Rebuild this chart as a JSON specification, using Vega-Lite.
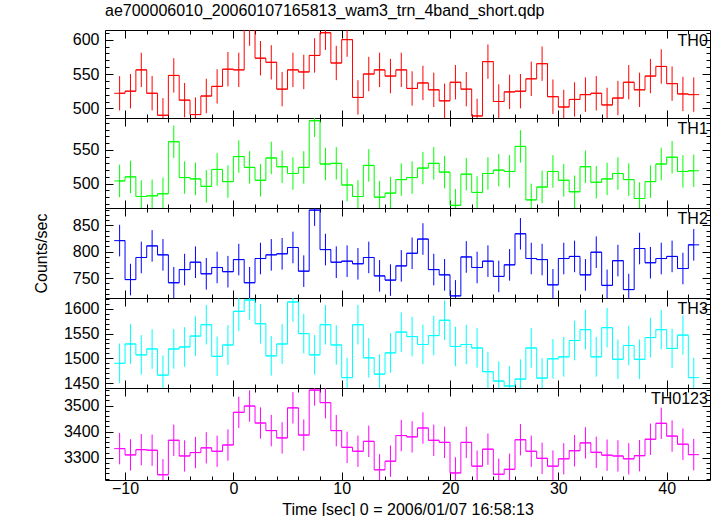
{
  "$schema": "https://vega.github.io/schema/vega-lite/v6.json",
  "padding": {"left": 33, "top": 2, "right": 5, "bottom": 0},
  "spacing": 0,
  "bounds": "flush",
  "config": {
    "view": {"stroke": null},
    "font": "Liberation Sans",
    "axis": {"grid": false, "domainColor": "black", "domainWidth": 1, "tickColor": "black", "tickWidth": 1, "labelColor": "black", "labelFont": "Liberation Sans", "labelFontSize": 16, "labelOverlap": false, "labelFlush": false, "titleFont": "Liberation Sans", "titleFontSize": 16, "titleFontWeight": "normal", "titleColor": "black", "format": "d"}
  },
  "data": {"values": [
    {"p":"TH0","t":-10.5,"v":522,"e":25},{"p":"TH0","t":-9.5,"v":525,"e":25},{"p":"TH0","t":-8.5,"v":556,"e":25},{"p":"TH0","t":-7.5,"v":522,"e":25},{"p":"TH0","t":-6.5,"v":490,"e":25},{"p":"TH0","t":-5.5,"v":548,"e":25},{"p":"TH0","t":-4.5,"v":512,"e":25},{"p":"TH0","t":-3.5,"v":491,"e":25},{"p":"TH0","t":-2.5,"v":518,"e":25},{"p":"TH0","t":-1.5,"v":532,"e":25},{"p":"TH0","t":-0.5,"v":557,"e":25},{"p":"TH0","t":0.5,"v":556,"e":25},{"p":"TH0","t":1.5,"v":616,"e":25},{"p":"TH0","t":2.5,"v":573,"e":25},{"p":"TH0","t":3.5,"v":567,"e":25},{"p":"TH0","t":4.5,"v":528,"e":25},{"p":"TH0","t":5.5,"v":556,"e":25},{"p":"TH0","t":6.5,"v":553,"e":25},{"p":"TH0","t":7.5,"v":577,"e":25},{"p":"TH0","t":8.5,"v":610,"e":25},{"p":"TH0","t":9.5,"v":566,"e":25},{"p":"TH0","t":10.5,"v":600,"e":25},{"p":"TH0","t":11.5,"v":516,"e":25},{"p":"TH0","t":12.5,"v":550,"e":25},{"p":"TH0","t":13.5,"v":556,"e":25},{"p":"TH0","t":14.5,"v":547,"e":25},{"p":"TH0","t":15.5,"v":556,"e":25},{"p":"TH0","t":16.5,"v":529,"e":25},{"p":"TH0","t":17.5,"v":537,"e":25},{"p":"TH0","t":18.5,"v":527,"e":25},{"p":"TH0","t":19.5,"v":511,"e":25},{"p":"TH0","t":20.5,"v":538,"e":25},{"p":"TH0","t":21.5,"v":528,"e":25},{"p":"TH0","t":22.5,"v":489,"e":25},{"p":"TH0","t":23.5,"v":568,"e":25},{"p":"TH0","t":24.5,"v":510,"e":25},{"p":"TH0","t":25.5,"v":524,"e":25},{"p":"TH0","t":26.5,"v":525,"e":25},{"p":"TH0","t":27.5,"v":543,"e":25},{"p":"TH0","t":28.5,"v":565,"e":25},{"p":"TH0","t":29.5,"v":517,"e":25},{"p":"TH0","t":30.5,"v":502,"e":25},{"p":"TH0","t":31.5,"v":513,"e":25},{"p":"TH0","t":32.5,"v":520,"e":25},{"p":"TH0","t":33.5,"v":522,"e":25},{"p":"TH0","t":34.5,"v":505,"e":25},{"p":"TH0","t":35.5,"v":515,"e":25},{"p":"TH0","t":36.5,"v":538,"e":25},{"p":"TH0","t":37.5,"v":527,"e":25},{"p":"TH0","t":38.5,"v":547,"e":25},{"p":"TH0","t":39.5,"v":561,"e":25},{"p":"TH0","t":40.5,"v":536,"e":25},{"p":"TH0","t":41.5,"v":521,"e":25},{"p":"TH0","t":42.5,"v":520,"e":25},
    {"p":"TH1","t":-10.5,"v":504,"e":24},{"p":"TH1","t":-9.5,"v":510,"e":24},{"p":"TH1","t":-8.5,"v":481,"e":24},{"p":"TH1","t":-7.5,"v":482,"e":24},{"p":"TH1","t":-6.5,"v":485,"e":24},{"p":"TH1","t":-5.5,"v":562,"e":24},{"p":"TH1","t":-4.5,"v":509,"e":24},{"p":"TH1","t":-3.5,"v":507,"e":24},{"p":"TH1","t":-2.5,"v":496,"e":24},{"p":"TH1","t":-1.5,"v":521,"e":24},{"p":"TH1","t":-0.5,"v":503,"e":24},{"p":"TH1","t":0.5,"v":540,"e":24},{"p":"TH1","t":1.5,"v":524,"e":24},{"p":"TH1","t":2.5,"v":505,"e":24},{"p":"TH1","t":3.5,"v":538,"e":24},{"p":"TH1","t":4.5,"v":525,"e":24},{"p":"TH1","t":5.5,"v":515,"e":24},{"p":"TH1","t":6.5,"v":524,"e":24},{"p":"TH1","t":7.5,"v":593,"e":24},{"p":"TH1","t":8.5,"v":529,"e":24},{"p":"TH1","t":9.5,"v":530,"e":24},{"p":"TH1","t":10.5,"v":498,"e":24},{"p":"TH1","t":11.5,"v":481,"e":24},{"p":"TH1","t":12.5,"v":527,"e":24},{"p":"TH1","t":13.5,"v":480,"e":24},{"p":"TH1","t":14.5,"v":486,"e":24},{"p":"TH1","t":15.5,"v":506,"e":24},{"p":"TH1","t":16.5,"v":509,"e":24},{"p":"TH1","t":17.5,"v":523,"e":24},{"p":"TH1","t":18.5,"v":530,"e":24},{"p":"TH1","t":19.5,"v":517,"e":24},{"p":"TH1","t":20.5,"v":468,"e":24},{"p":"TH1","t":21.5,"v":514,"e":24},{"p":"TH1","t":22.5,"v":487,"e":24},{"p":"TH1","t":23.5,"v":515,"e":24},{"p":"TH1","t":24.5,"v":520,"e":24},{"p":"TH1","t":25.5,"v":518,"e":24},{"p":"TH1","t":26.5,"v":555,"e":24},{"p":"TH1","t":27.5,"v":476,"e":24},{"p":"TH1","t":28.5,"v":495,"e":24},{"p":"TH1","t":29.5,"v":518,"e":24},{"p":"TH1","t":30.5,"v":505,"e":24},{"p":"TH1","t":31.5,"v":488,"e":24},{"p":"TH1","t":32.5,"v":525,"e":24},{"p":"TH1","t":33.5,"v":502,"e":24},{"p":"TH1","t":34.5,"v":507,"e":24},{"p":"TH1","t":35.5,"v":515,"e":24},{"p":"TH1","t":36.5,"v":506,"e":24},{"p":"TH1","t":37.5,"v":478,"e":24},{"p":"TH1","t":38.5,"v":503,"e":24},{"p":"TH1","t":39.5,"v":529,"e":24},{"p":"TH1","t":40.5,"v":539,"e":24},{"p":"TH1","t":41.5,"v":518,"e":24},{"p":"TH1","t":42.5,"v":519,"e":24},
    {"p":"TH2","t":-10.5,"v":821,"e":30},{"p":"TH2","t":-9.5,"v":747,"e":30},{"p":"TH2","t":-8.5,"v":789,"e":30},{"p":"TH2","t":-7.5,"v":811,"e":30},{"p":"TH2","t":-6.5,"v":794,"e":30},{"p":"TH2","t":-5.5,"v":741,"e":30},{"p":"TH2","t":-4.5,"v":766,"e":30},{"p":"TH2","t":-3.5,"v":780,"e":30},{"p":"TH2","t":-2.5,"v":758,"e":30},{"p":"TH2","t":-1.5,"v":770,"e":30},{"p":"TH2","t":-0.5,"v":762,"e":30},{"p":"TH2","t":0.5,"v":785,"e":30},{"p":"TH2","t":1.5,"v":741,"e":30},{"p":"TH2","t":2.5,"v":787,"e":30},{"p":"TH2","t":3.5,"v":794,"e":30},{"p":"TH2","t":4.5,"v":796,"e":30},{"p":"TH2","t":5.5,"v":808,"e":30},{"p":"TH2","t":6.5,"v":763,"e":30},{"p":"TH2","t":7.5,"v":879,"e":30},{"p":"TH2","t":8.5,"v":804,"e":30},{"p":"TH2","t":9.5,"v":780,"e":30},{"p":"TH2","t":10.5,"v":782,"e":30},{"p":"TH2","t":11.5,"v":777,"e":30},{"p":"TH2","t":12.5,"v":789,"e":30},{"p":"TH2","t":13.5,"v":754,"e":30},{"p":"TH2","t":14.5,"v":746,"e":30},{"p":"TH2","t":15.5,"v":773,"e":30},{"p":"TH2","t":16.5,"v":797,"e":30},{"p":"TH2","t":17.5,"v":824,"e":30},{"p":"TH2","t":18.5,"v":766,"e":30},{"p":"TH2","t":19.5,"v":756,"e":30},{"p":"TH2","t":20.5,"v":716,"e":30},{"p":"TH2","t":21.5,"v":790,"e":30},{"p":"TH2","t":22.5,"v":770,"e":30},{"p":"TH2","t":23.5,"v":782,"e":30},{"p":"TH2","t":24.5,"v":753,"e":30},{"p":"TH2","t":25.5,"v":775,"e":30},{"p":"TH2","t":26.5,"v":834,"e":30},{"p":"TH2","t":27.5,"v":787,"e":30},{"p":"TH2","t":28.5,"v":785,"e":30},{"p":"TH2","t":29.5,"v":737,"e":30},{"p":"TH2","t":30.5,"v":787,"e":30},{"p":"TH2","t":31.5,"v":791,"e":30},{"p":"TH2","t":32.5,"v":756,"e":30},{"p":"TH2","t":33.5,"v":799,"e":30},{"p":"TH2","t":34.5,"v":736,"e":30},{"p":"TH2","t":35.5,"v":783,"e":30},{"p":"TH2","t":36.5,"v":728,"e":30},{"p":"TH2","t":37.5,"v":806,"e":30},{"p":"TH2","t":38.5,"v":779,"e":30},{"p":"TH2","t":39.5,"v":787,"e":30},{"p":"TH2","t":40.5,"v":791,"e":30},{"p":"TH2","t":41.5,"v":768,"e":30},{"p":"TH2","t":42.5,"v":813,"e":30},
    {"p":"TH3","t":-10.5,"v":1490,"e":40},{"p":"TH3","t":-9.5,"v":1529,"e":40},{"p":"TH3","t":-8.5,"v":1507,"e":40},{"p":"TH3","t":-7.5,"v":1519,"e":40},{"p":"TH3","t":-6.5,"v":1466,"e":40},{"p":"TH3","t":-5.5,"v":1519,"e":40},{"p":"TH3","t":-4.5,"v":1523,"e":40},{"p":"TH3","t":-3.5,"v":1545,"e":40},{"p":"TH3","t":-2.5,"v":1568,"e":40},{"p":"TH3","t":-1.5,"v":1504,"e":40},{"p":"TH3","t":-0.5,"v":1527,"e":40},{"p":"TH3","t":0.5,"v":1595,"e":40},{"p":"TH3","t":1.5,"v":1618,"e":40},{"p":"TH3","t":2.5,"v":1570,"e":40},{"p":"TH3","t":3.5,"v":1505,"e":40},{"p":"TH3","t":4.5,"v":1529,"e":40},{"p":"TH3","t":5.5,"v":1614,"e":40},{"p":"TH3","t":6.5,"v":1550,"e":40},{"p":"TH3","t":7.5,"v":1507,"e":40},{"p":"TH3","t":8.5,"v":1568,"e":40},{"p":"TH3","t":9.5,"v":1527,"e":40},{"p":"TH3","t":10.5,"v":1461,"e":40},{"p":"TH3","t":11.5,"v":1568,"e":40},{"p":"TH3","t":12.5,"v":1501,"e":40},{"p":"TH3","t":13.5,"v":1468,"e":40},{"p":"TH3","t":14.5,"v":1511,"e":40},{"p":"TH3","t":15.5,"v":1553,"e":40},{"p":"TH3","t":16.5,"v":1544,"e":40},{"p":"TH3","t":17.5,"v":1528,"e":40},{"p":"TH3","t":18.5,"v":1546,"e":40},{"p":"TH3","t":19.5,"v":1577,"e":40},{"p":"TH3","t":20.5,"v":1524,"e":40},{"p":"TH3","t":21.5,"v":1528,"e":40},{"p":"TH3","t":22.5,"v":1521,"e":40},{"p":"TH3","t":23.5,"v":1473,"e":40},{"p":"TH3","t":24.5,"v":1454,"e":40},{"p":"TH3","t":25.5,"v":1444,"e":40},{"p":"TH3","t":26.5,"v":1458,"e":40},{"p":"TH3","t":27.5,"v":1521,"e":40},{"p":"TH3","t":28.5,"v":1460,"e":40},{"p":"TH3","t":29.5,"v":1499,"e":40},{"p":"TH3","t":30.5,"v":1503,"e":40},{"p":"TH3","t":31.5,"v":1536,"e":40},{"p":"TH3","t":32.5,"v":1558,"e":40},{"p":"TH3","t":33.5,"v":1503,"e":40},{"p":"TH3","t":34.5,"v":1562,"e":40},{"p":"TH3","t":35.5,"v":1498,"e":40},{"p":"TH3","t":36.5,"v":1526,"e":40},{"p":"TH3","t":37.5,"v":1498,"e":40},{"p":"TH3","t":38.5,"v":1542,"e":40},{"p":"TH3","t":39.5,"v":1558,"e":40},{"p":"TH3","t":40.5,"v":1520,"e":40},{"p":"TH3","t":41.5,"v":1547,"e":40},{"p":"TH3","t":42.5,"v":1461,"e":40},
    {"p":"TH0123","t":-10.5,"v":3335,"e":60},{"p":"TH0123","t":-9.5,"v":3311,"e":60},{"p":"TH0123","t":-8.5,"v":3331,"e":60},{"p":"TH0123","t":-7.5,"v":3329,"e":60},{"p":"TH0123","t":-6.5,"v":3235,"e":60},{"p":"TH0123","t":-5.5,"v":3367,"e":60},{"p":"TH0123","t":-4.5,"v":3307,"e":60},{"p":"TH0123","t":-3.5,"v":3320,"e":60},{"p":"TH0123","t":-2.5,"v":3338,"e":60},{"p":"TH0123","t":-1.5,"v":3325,"e":60},{"p":"TH0123","t":-0.5,"v":3349,"e":60},{"p":"TH0123","t":0.5,"v":3474,"e":60},{"p":"TH0123","t":1.5,"v":3498,"e":60},{"p":"TH0123","t":2.5,"v":3433,"e":60},{"p":"TH0123","t":3.5,"v":3404,"e":60},{"p":"TH0123","t":4.5,"v":3376,"e":60},{"p":"TH0123","t":5.5,"v":3491,"e":60},{"p":"TH0123","t":6.5,"v":3387,"e":60},{"p":"TH0123","t":7.5,"v":3559,"e":60},{"p":"TH0123","t":8.5,"v":3511,"e":60},{"p":"TH0123","t":9.5,"v":3404,"e":60},{"p":"TH0123","t":10.5,"v":3340,"e":60},{"p":"TH0123","t":11.5,"v":3325,"e":60},{"p":"TH0123","t":12.5,"v":3363,"e":60},{"p":"TH0123","t":13.5,"v":3254,"e":60},{"p":"TH0123","t":14.5,"v":3287,"e":60},{"p":"TH0123","t":15.5,"v":3385,"e":60},{"p":"TH0123","t":16.5,"v":3380,"e":60},{"p":"TH0123","t":17.5,"v":3414,"e":60},{"p":"TH0123","t":18.5,"v":3367,"e":60},{"p":"TH0123","t":19.5,"v":3359,"e":60},{"p":"TH0123","t":20.5,"v":3242,"e":60},{"p":"TH0123","t":21.5,"v":3359,"e":60},{"p":"TH0123","t":22.5,"v":3268,"e":60},{"p":"TH0123","t":23.5,"v":3333,"e":60},{"p":"TH0123","t":24.5,"v":3237,"e":60},{"p":"TH0123","t":25.5,"v":3256,"e":60},{"p":"TH0123","t":26.5,"v":3369,"e":60},{"p":"TH0123","t":27.5,"v":3325,"e":60},{"p":"TH0123","t":28.5,"v":3298,"e":60},{"p":"TH0123","t":29.5,"v":3268,"e":60},{"p":"TH0123","t":30.5,"v":3296,"e":60},{"p":"TH0123","t":31.5,"v":3327,"e":60},{"p":"TH0123","t":32.5,"v":3357,"e":60},{"p":"TH0123","t":33.5,"v":3321,"e":60},{"p":"TH0123","t":34.5,"v":3310,"e":60},{"p":"TH0123","t":35.5,"v":3307,"e":60},{"p":"TH0123","t":36.5,"v":3296,"e":60},{"p":"TH0123","t":37.5,"v":3308,"e":60},{"p":"TH0123","t":38.5,"v":3371,"e":60},{"p":"TH0123","t":39.5,"v":3432,"e":60},{"p":"TH0123","t":40.5,"v":3383,"e":60},{"p":"TH0123","t":41.5,"v":3352,"e":60},{"p":"TH0123","t":42.5,"v":3312,"e":60}
  ]},
  "vconcat": [
    {
      "width": 605, "height": 88,
      "title": {"text": "ae700006010_20060107165813_wam3_trn_4band_short.qdp", "anchor": "start", "frame": "group", "fontSize": 16, "font": "Liberation Sans", "fontWeight": "normal", "color": "black", "offset": 6},
      "transform": [{"filter": "datum.p === 'TH0'"}],
      "layer": [
        {"mark": {"type": "errorbar", "color": "#ff0000", "thickness": 1, "clip": true},
         "encoding": {
           "x": {"field": "t", "type": "quantitative", "scale": {"domain": [-11.85, 44], "nice": false, "zero": false}, "axis": {"orient": "bottom", "title": null, "labels": false, "values": [-10,-8,-6,-4,-2,0,2,4,6,8,10,12,14,16,18,20,22,24,26,28,30,32,34,36,38,40,42], "tickSize": {"condition": {"test": "datum.value % 10 === 0", "value": -8}, "value": -4}}},
           "y": {"field": "v", "type": "quantitative", "scale": {"domain": [486, 614], "nice": false, "zero": false}, "axis": {"orient": "left", "title": null, "values": [490,500,510,520,530,540,550,560,570,580,590,600,610], "labelExpr": "datum.value % 50 === 0 ? datum.label : ''", "labelPadding": 14, "tickSize": {"condition": {"test": "datum.value % 50 === 0", "value": -8}, "value": -4}}},
           "yError": {"field": "e"}}},
        {"mark": {"type": "line", "interpolate": "step", "color": "#ff0000", "strokeWidth": 1, "clip": true},
         "encoding": {
           "x": {"field": "t", "type": "quantitative", "scale": {"domain": [-11.85, 44], "nice": false, "zero": false}, "axis": {"orient": "top", "title": null, "labels": false, "values": [-10,-8,-6,-4,-2,0,2,4,6,8,10,12,14,16,18,20,22,24,26,28,30,32,34,36,38,40,42], "tickSize": {"condition": {"test": "datum.value % 10 === 0", "value": -8}, "value": -4}}},
           "y": {"field": "v", "type": "quantitative", "scale": {"domain": [486, 614], "nice": false, "zero": false}, "axis": {"orient": "right", "title": null, "labels": false, "values": [490,500,510,520,530,540,550,560,570,580,590,600,610], "tickSize": {"condition": {"test": "datum.value % 50 === 0", "value": -8}, "value": -4}}}}},
        {"mark": {"type": "tick", "orient": "horizontal", "size": 10.83, "thickness": 1, "color": "#ff0000", "opacity": 1, "clip": true},
         "encoding": {
           "x": {"field": "t", "type": "quantitative", "scale": {"domain": [-11.85, 44], "nice": false, "zero": false}, "axis": null},
           "y": {"field": "v", "type": "quantitative", "scale": {"domain": [486, 614], "nice": false, "zero": false}, "axis": null}}},
        {"data": {"values": [{"name": "TH0"}]},
         "mark": {"type": "text", "align": "right", "baseline": "top", "fontSize": 16, "font": "Liberation Sans", "color": "black", "dy": 3},
         "encoding": {
           "x": {"datum": 43.8, "type": "quantitative", "scale": {"domain": [-11.85, 44], "nice": false, "zero": false}, "axis": null},
           "y": {"datum": 614, "type": "quantitative", "scale": {"domain": [486, 614], "nice": false, "zero": false}, "axis": null},
           "text": {"field": "name"}}}
      ],
      "resolve": {"axis": {"x": "independent", "y": "independent"}}
    },
    {
      "width": 605, "height": 90,
      "transform": [{"filter": "datum.p === 'TH1'"}],
      "layer": [
        {"mark": {"type": "errorbar", "color": "#00ff00", "thickness": 1, "clip": true},
         "encoding": {
           "x": {"field": "t", "type": "quantitative", "scale": {"domain": [-11.85, 44], "nice": false, "zero": false}, "axis": {"orient": "bottom", "title": null, "labels": false, "values": [-10,-8,-6,-4,-2,0,2,4,6,8,10,12,14,16,18,20,22,24,26,28,30,32,34,36,38,40,42], "tickSize": {"condition": {"test": "datum.value % 10 === 0", "value": -8}, "value": -4}}},
           "y": {"field": "v", "type": "quantitative", "scale": {"domain": [464, 597], "nice": false, "zero": false}, "axis": {"orient": "left", "title": null, "values": [470,480,490,500,510,520,530,540,550,560,570,580,590], "labelExpr": "datum.value % 50 === 0 ? datum.label : ''", "labelPadding": 14, "tickSize": {"condition": {"test": "datum.value % 50 === 0", "value": -8}, "value": -4}}},
           "yError": {"field": "e"}}},
        {"mark": {"type": "line", "interpolate": "step", "color": "#00ff00", "strokeWidth": 1, "clip": true},
         "encoding": {
           "x": {"field": "t", "type": "quantitative", "scale": {"domain": [-11.85, 44], "nice": false, "zero": false}, "axis": {"orient": "top", "title": null, "labels": false, "values": [-10,-8,-6,-4,-2,0,2,4,6,8,10,12,14,16,18,20,22,24,26,28,30,32,34,36,38,40,42], "tickSize": {"condition": {"test": "datum.value % 10 === 0", "value": -8}, "value": -4}}},
           "y": {"field": "v", "type": "quantitative", "scale": {"domain": [464, 597], "nice": false, "zero": false}, "axis": {"orient": "right", "title": null, "labels": false, "values": [470,480,490,500,510,520,530,540,550,560,570,580,590], "tickSize": {"condition": {"test": "datum.value % 50 === 0", "value": -8}, "value": -4}}}}},
        {"mark": {"type": "tick", "orient": "horizontal", "size": 10.83, "thickness": 1, "color": "#00ff00", "opacity": 1, "clip": true},
         "encoding": {
           "x": {"field": "t", "type": "quantitative", "scale": {"domain": [-11.85, 44], "nice": false, "zero": false}, "axis": null},
           "y": {"field": "v", "type": "quantitative", "scale": {"domain": [464, 597], "nice": false, "zero": false}, "axis": null}}},
        {"data": {"values": [{"name": "TH1"}]},
         "mark": {"type": "text", "align": "right", "baseline": "top", "fontSize": 16, "font": "Liberation Sans", "color": "black", "dy": 3},
         "encoding": {
           "x": {"datum": 43.8, "type": "quantitative", "scale": {"domain": [-11.85, 44], "nice": false, "zero": false}, "axis": null},
           "y": {"datum": 597, "type": "quantitative", "scale": {"domain": [464, 597], "nice": false, "zero": false}, "axis": null},
           "text": {"field": "name"}}}
      ],
      "resolve": {"axis": {"x": "independent", "y": "independent"}}
    },
    {
      "width": 605, "height": 90,
      "transform": [{"filter": "datum.p === 'TH2'"}],
      "layer": [
        {"mark": {"type": "errorbar", "color": "#0000ff", "thickness": 1, "clip": true},
         "encoding": {
           "x": {"field": "t", "type": "quantitative", "scale": {"domain": [-11.85, 44], "nice": false, "zero": false}, "axis": {"orient": "bottom", "title": null, "labels": false, "values": [-10,-8,-6,-4,-2,0,2,4,6,8,10,12,14,16,18,20,22,24,26,28,30,32,34,36,38,40,42], "tickSize": {"condition": {"test": "datum.value % 10 === 0", "value": -8}, "value": -4}}},
           "y": {"field": "v", "type": "quantitative", "scale": {"domain": [712, 883], "nice": false, "zero": false}, "axis": {"orient": "left", "title": "Counts/sec", "titlePadding": 23, "values": [720,730,740,750,760,770,780,790,800,810,820,830,840,850,860,870,880], "labelExpr": "datum.value % 50 === 0 ? datum.label : ''", "labelPadding": 14, "tickSize": {"condition": {"test": "datum.value % 50 === 0", "value": -8}, "value": -4}}},
           "yError": {"field": "e"}}},
        {"mark": {"type": "line", "interpolate": "step", "color": "#0000ff", "strokeWidth": 1, "clip": true},
         "encoding": {
           "x": {"field": "t", "type": "quantitative", "scale": {"domain": [-11.85, 44], "nice": false, "zero": false}, "axis": {"orient": "top", "title": null, "labels": false, "values": [-10,-8,-6,-4,-2,0,2,4,6,8,10,12,14,16,18,20,22,24,26,28,30,32,34,36,38,40,42], "tickSize": {"condition": {"test": "datum.value % 10 === 0", "value": -8}, "value": -4}}},
           "y": {"field": "v", "type": "quantitative", "scale": {"domain": [712, 883], "nice": false, "zero": false}, "axis": {"orient": "right", "title": null, "labels": false, "values": [720,730,740,750,760,770,780,790,800,810,820,830,840,850,860,870,880], "tickSize": {"condition": {"test": "datum.value % 50 === 0", "value": -8}, "value": -4}}}}},
        {"mark": {"type": "tick", "orient": "horizontal", "size": 10.83, "thickness": 1, "color": "#0000ff", "opacity": 1, "clip": true},
         "encoding": {
           "x": {"field": "t", "type": "quantitative", "scale": {"domain": [-11.85, 44], "nice": false, "zero": false}, "axis": null},
           "y": {"field": "v", "type": "quantitative", "scale": {"domain": [712, 883], "nice": false, "zero": false}, "axis": null}}},
        {"data": {"values": [{"name": "TH2"}]},
         "mark": {"type": "text", "align": "right", "baseline": "top", "fontSize": 16, "font": "Liberation Sans", "color": "black", "dy": 3},
         "encoding": {
           "x": {"datum": 43.8, "type": "quantitative", "scale": {"domain": [-11.85, 44], "nice": false, "zero": false}, "axis": null},
           "y": {"datum": 883, "type": "quantitative", "scale": {"domain": [712, 883], "nice": false, "zero": false}, "axis": null},
           "text": {"field": "name"}}}
      ],
      "resolve": {"axis": {"x": "independent", "y": "independent"}}
    },
    {
      "width": 605, "height": 90,
      "transform": [{"filter": "datum.p === 'TH3'"}],
      "layer": [
        {"mark": {"type": "errorbar", "color": "#00ffff", "thickness": 1, "clip": true},
         "encoding": {
           "x": {"field": "t", "type": "quantitative", "scale": {"domain": [-11.85, 44], "nice": false, "zero": false}, "axis": {"orient": "bottom", "title": null, "labels": false, "values": [-10,-8,-6,-4,-2,0,2,4,6,8,10,12,14,16,18,20,22,24,26,28,30,32,34,36,38,40,42], "tickSize": {"condition": {"test": "datum.value % 10 === 0", "value": -8}, "value": -4}}},
           "y": {"field": "v", "type": "quantitative", "scale": {"domain": [1440, 1622], "nice": false, "zero": false}, "axis": {"orient": "left", "title": null, "values": [1440,1450,1460,1470,1480,1490,1500,1510,1520,1530,1540,1550,1560,1570,1580,1590,1600,1610,1620], "labelExpr": "datum.value % 50 === 0 ? datum.label : ''", "labelPadding": 14, "tickSize": {"condition": {"test": "datum.value % 50 === 0", "value": -8}, "value": -4}}},
           "yError": {"field": "e"}}},
        {"mark": {"type": "line", "interpolate": "step", "color": "#00ffff", "strokeWidth": 1, "clip": true},
         "encoding": {
           "x": {"field": "t", "type": "quantitative", "scale": {"domain": [-11.85, 44], "nice": false, "zero": false}, "axis": {"orient": "top", "title": null, "labels": false, "values": [-10,-8,-6,-4,-2,0,2,4,6,8,10,12,14,16,18,20,22,24,26,28,30,32,34,36,38,40,42], "tickSize": {"condition": {"test": "datum.value % 10 === 0", "value": -8}, "value": -4}}},
           "y": {"field": "v", "type": "quantitative", "scale": {"domain": [1440, 1622], "nice": false, "zero": false}, "axis": {"orient": "right", "title": null, "labels": false, "values": [1440,1450,1460,1470,1480,1490,1500,1510,1520,1530,1540,1550,1560,1570,1580,1590,1600,1610,1620], "tickSize": {"condition": {"test": "datum.value % 50 === 0", "value": -8}, "value": -4}}}}},
        {"mark": {"type": "tick", "orient": "horizontal", "size": 10.83, "thickness": 1, "color": "#00ffff", "opacity": 1, "clip": true},
         "encoding": {
           "x": {"field": "t", "type": "quantitative", "scale": {"domain": [-11.85, 44], "nice": false, "zero": false}, "axis": null},
           "y": {"field": "v", "type": "quantitative", "scale": {"domain": [1440, 1622], "nice": false, "zero": false}, "axis": null}}},
        {"data": {"values": [{"name": "TH3"}]},
         "mark": {"type": "text", "align": "right", "baseline": "top", "fontSize": 16, "font": "Liberation Sans", "color": "black", "dy": 3},
         "encoding": {
           "x": {"datum": 43.8, "type": "quantitative", "scale": {"domain": [-11.85, 44], "nice": false, "zero": false}, "axis": null},
           "y": {"datum": 1622, "type": "quantitative", "scale": {"domain": [1440, 1622], "nice": false, "zero": false}, "axis": null},
           "text": {"field": "name"}}}
      ],
      "resolve": {"axis": {"x": "independent", "y": "independent"}}
    },
    {
      "width": 605, "height": 92,
      "transform": [{"filter": "datum.p === 'TH0123'"}],
      "layer": [
        {"mark": {"type": "errorbar", "color": "#ff00ff", "thickness": 1, "clip": true},
         "encoding": {
           "x": {"field": "t", "type": "quantitative", "scale": {"domain": [-11.85, 44], "nice": false, "zero": false}, "axis": {"orient": "bottom", "title": "Time [sec] 0 = 2006/01/07 16:58:13", "titlePadding": 1, "labelPadding": 8, "labelExpr": "datum.value % 10 === 0 ? datum.label : ''", "values": [-10,-8,-6,-4,-2,0,2,4,6,8,10,12,14,16,18,20,22,24,26,28,30,32,34,36,38,40,42], "tickSize": {"condition": {"test": "datum.value % 10 === 0", "value": -8}, "value": -4}}},
           "y": {"field": "v", "type": "quantitative", "scale": {"domain": [3215, 3567], "nice": false, "zero": false}, "axis": {"orient": "left", "title": null, "values": [3220,3240,3260,3280,3300,3320,3340,3360,3380,3400,3420,3440,3460,3480,3500,3520,3540,3560], "labelExpr": "datum.value % 100 === 0 ? datum.label : ''", "labelPadding": 14, "tickSize": {"condition": {"test": "datum.value % 100 === 0", "value": -8}, "value": -4}}},
           "yError": {"field": "e"}}},
        {"mark": {"type": "line", "interpolate": "step", "color": "#ff00ff", "strokeWidth": 1, "clip": true},
         "encoding": {
           "x": {"field": "t", "type": "quantitative", "scale": {"domain": [-11.85, 44], "nice": false, "zero": false}, "axis": {"orient": "top", "title": null, "labels": false, "values": [-10,-8,-6,-4,-2,0,2,4,6,8,10,12,14,16,18,20,22,24,26,28,30,32,34,36,38,40,42], "tickSize": {"condition": {"test": "datum.value % 10 === 0", "value": -8}, "value": -4}}},
           "y": {"field": "v", "type": "quantitative", "scale": {"domain": [3215, 3567], "nice": false, "zero": false}, "axis": {"orient": "right", "title": null, "labels": false, "values": [3220,3240,3260,3280,3300,3320,3340,3360,3380,3400,3420,3440,3460,3480,3500,3520,3540,3560], "tickSize": {"condition": {"test": "datum.value % 100 === 0", "value": -8}, "value": -4}}}}},
        {"mark": {"type": "tick", "orient": "horizontal", "size": 10.83, "thickness": 1, "color": "#ff00ff", "opacity": 1, "clip": true},
         "encoding": {
           "x": {"field": "t", "type": "quantitative", "scale": {"domain": [-11.85, 44], "nice": false, "zero": false}, "axis": null},
           "y": {"field": "v", "type": "quantitative", "scale": {"domain": [3215, 3567], "nice": false, "zero": false}, "axis": null}}},
        {"data": {"values": [{"name": "TH0123"}]},
         "mark": {"type": "text", "align": "right", "baseline": "top", "fontSize": 16, "font": "Liberation Sans", "color": "black", "dy": 3},
         "encoding": {
           "x": {"datum": 43.8, "type": "quantitative", "scale": {"domain": [-11.85, 44], "nice": false, "zero": false}, "axis": null},
           "y": {"datum": 3567, "type": "quantitative", "scale": {"domain": [3215, 3567], "nice": false, "zero": false}, "axis": null},
           "text": {"field": "name"}}}
      ],
      "resolve": {"axis": {"x": "independent", "y": "independent"}}
    }
  ]
}
